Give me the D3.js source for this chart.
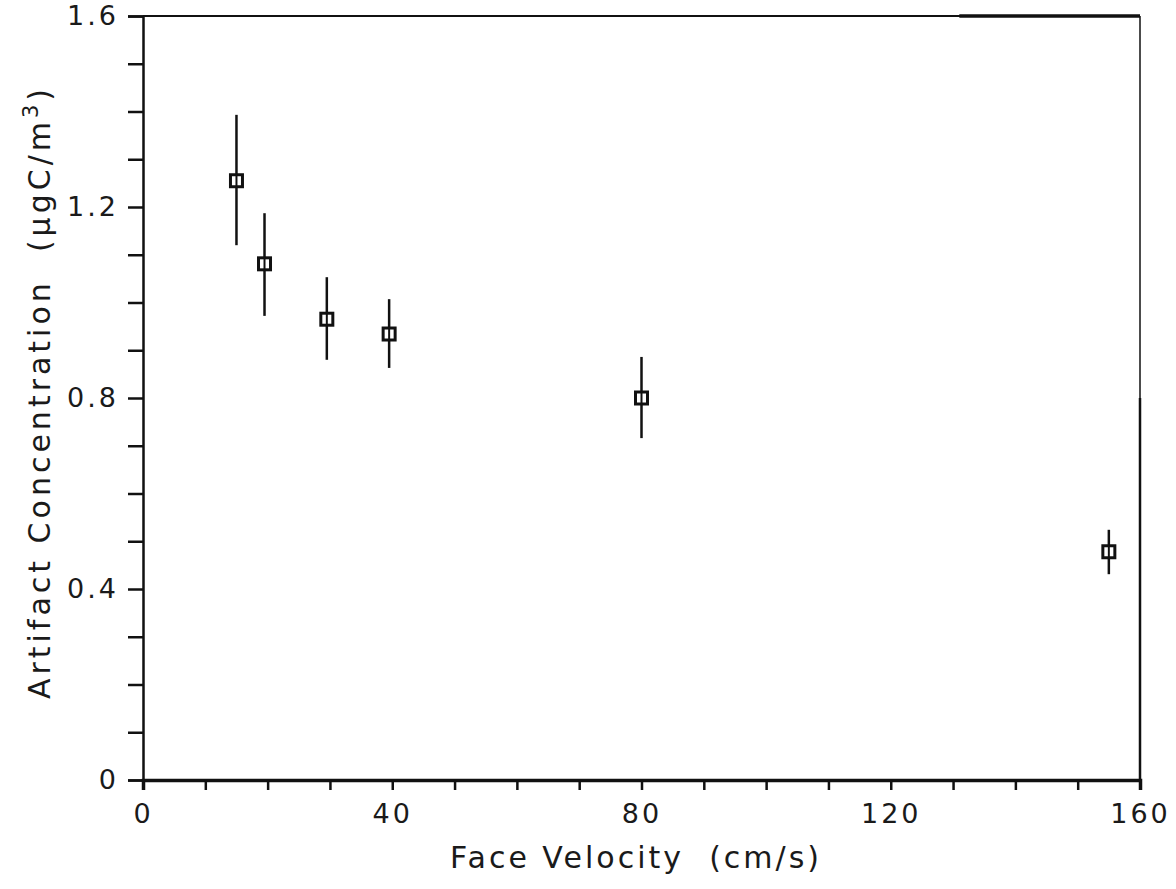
<!DOCTYPE html>
<html><head><meta charset="utf-8">
<script src="https://cdn.jsdelivr.net/npm/d3@7/dist/d3.min.js"></script>
<style>body{margin:0;background:#fff}text{font-family:"DejaVu Sans",sans-serif;fill:#1a1a1a;white-space:pre}</style>
</head><body>
<svg id="c" width="1176" height="889"></svg>
<script>
const velocity = [15, 19.5, 29.5, 39.5, 80, 155];
const concentration = [1.255, 1.081, 0.965, 0.934, 0.800, 0.478];
const errLow = [1.120, 0.972, 0.880, 0.863, 0.716, 0.431];
const errHigh = [1.393, 1.187, 1.053, 1.007, 0.886, 0.524];
const xTickLabels = [0, 40, 80, 120, 160];
const yTickLabels = [0, 0.4, 0.8, 1.2, 1.6];
const xLabel = "Face Velocity  (cm/s)";
const yLabel = "Artifact Concentration  (\u03bcgC/m";

const svg = d3.select("#c");
const L = 143, R = 1140, T = 16, B = 780;
const x = d3.scaleLinear().domain([0, 160]).range([L, R]);
const y = d3.scaleLinear().domain([0, 1.6]).range([B, T]);
const ink = "#111";

// frame
svg.append("line").attr("x1", L).attr("x2", R).attr("y1", T).attr("y2", T).attr("stroke", ink).attr("stroke-width", 2);
svg.append("line").attr("x1", x(131)).attr("x2", R).attr("y1", T).attr("y2", T).attr("stroke", ink).attr("stroke-width", 3.5);
svg.append("line").attr("x1", R).attr("x2", R).attr("y1", T).attr("y2", B).attr("stroke", ink).attr("stroke-width", 1.5);
svg.append("line").attr("x1", R).attr("x2", R).attr("y1", y(0.8)).attr("y2", B).attr("stroke", ink).attr("stroke-width", 2.5);

// axes
const xAxis = d3.axisBottom(x).tickValues(d3.range(0, 161, 10)).tickSize(10)
  .tickFormat(d => xTickLabels.includes(d) ? d : "");
const gx = svg.append("g").attr("transform", `translate(0,${B})`).call(xAxis);
gx.select(".domain").attr("stroke", ink).attr("stroke-width", 3.5);
gx.selectAll(".tick line").attr("stroke", ink).attr("stroke-width", 2.5);
gx.selectAll(".tick text").attr("font-size", 27).attr("dy", "1.1em").attr("letter-spacing", 3).attr("fill", "#1a1a1a");

const yAxis = d3.axisLeft(y).tickValues(d3.range(0, 17).map(i => i / 10)).tickSize(15)
  .tickFormat(d => { const m = yTickLabels.find(v => Math.abs(v - d) < 1e-9); return m === undefined ? "" : (m === 0 ? "0" : d3.format(".1f")(m)); });
const gy = svg.append("g").attr("transform", `translate(${L},0)`).call(yAxis);
gy.select(".domain").attr("stroke", ink).attr("stroke-width", 2.5);
gy.selectAll(".tick line").attr("stroke", ink).attr("stroke-width", 2.5);
gy.selectAll(".tick text").attr("font-size", 27).attr("x", -24).attr("letter-spacing", 3).attr("fill", "#1a1a1a");

// error bars
svg.append("g").selectAll("line").data(velocity).join("line")
  .attr("x1", d => x(d)).attr("x2", d => x(d))
  .attr("y1", (d, i) => y(errHigh[i])).attr("y2", (d, i) => y(errLow[i]))
  .attr("stroke", ink).attr("stroke-width", 2.5);

// markers
svg.append("g").selectAll("rect").data(velocity).join("rect")
  .attr("x", d => x(d) - 6).attr("y", (d, i) => y(concentration[i]) - 6)
  .attr("width", 12).attr("height", 12)
  .attr("fill", "#fff").attr("stroke", ink).attr("stroke-width", 3);
svg.append("g").selectAll("line").data(velocity).join("line")
  .attr("x1", d => x(d)).attr("x2", d => x(d))
  .attr("y1", (d, i) => y(concentration[i]) - 6).attr("y2", (d, i) => y(concentration[i]) + 6)
  .attr("stroke", ink).attr("stroke-width", 2);

// labels
svg.append("text").attr("x", 636).attr("y", 868).attr("text-anchor", "middle")
  .attr("font-size", 30).attr("letter-spacing", 3).text(xLabel);
const yl = svg.append("text").attr("transform", `translate(50,${392}) rotate(-90)`)
  .attr("text-anchor", "middle").attr("font-size", 30).attr("letter-spacing", 4);
yl.append("tspan").text(yLabel);
yl.append("tspan").attr("dy", -12).attr("font-size", 21).text("3");
yl.append("tspan").attr("dy", 12).text(")");
</script>
</body></html>
